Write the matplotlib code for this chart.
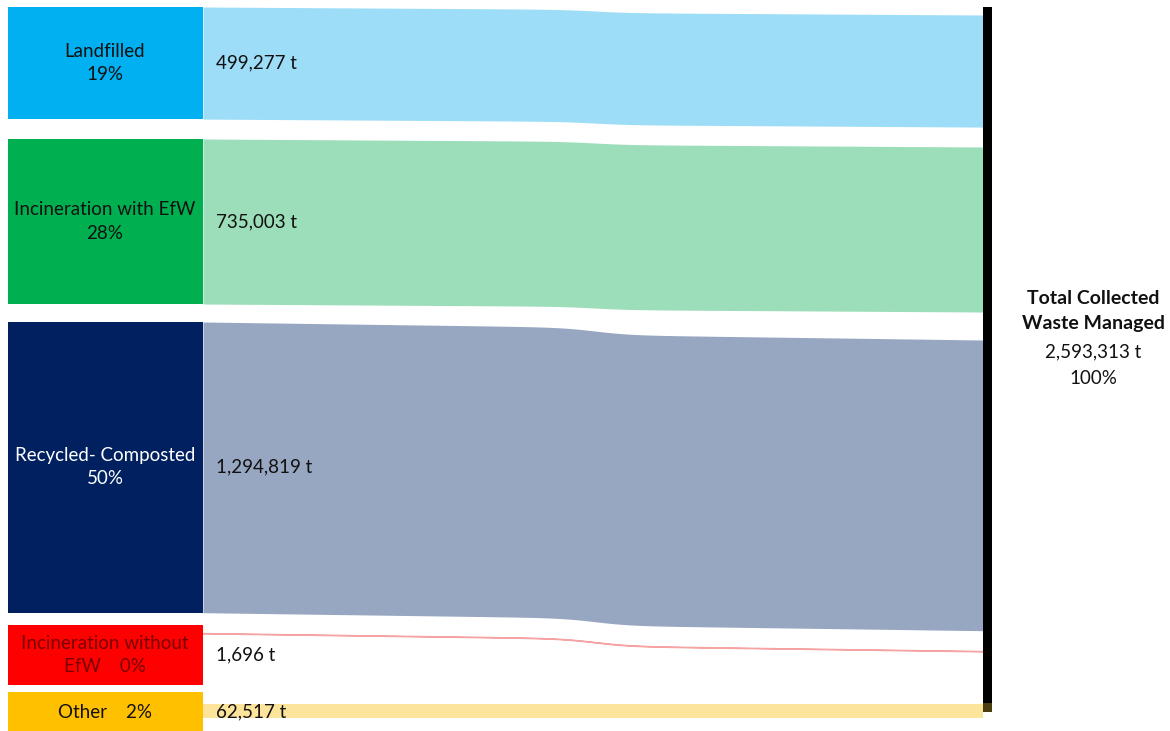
import numpy as np
import matplotlib.pyplot as plt
from matplotlib.patches import Rectangle

# data
categories = ["Landfilled", "Incineration with EfW", "Recycled- Composted",
              "Incineration without EfW", "Other"]
box_labels = ["Landfilled\n19%", "Incineration with EfW\n28%", "Recycled- Composted\n50%",
              "Incineration without\nEfW    0%", "Other    2%"]
tonnes = [499277, 735003, 1294819, 1696, 62517]
total_tonnes = 2593313

# styling / layout
box_colors = ["#00B0F0", "#00B050", "#002060", "#FF0000", "#FFC000"]
flow_colors = ["#9DDDF7", "#9CDDBA", "#97A7C1", "#F5A3A3", "#FDE49B"]
text_colors = ["#111111", "#111111", "#FFFFFF", "#7A0000", "#111111"]
box_tops = [7, 139, 322, 625, 692]
box_min = 60
flow_offset = [0, 0, 0, 8, 12]     # flow start below box top
right_shift = [8, 8, 18, 18, 0]    # vertical drift of each flow to the right bar
px_per_t = 2.245e-4

W, H = 1170, 731
fig = plt.figure(figsize=(11.7, 7.31), dpi=100)
ax = fig.add_axes([0, 0, 1, 1])
ax.set_xlim(0, W)
ax.set_ylim(H, 0)
ax.axis("off")
plt.rcParams["font.family"] = ["Lato", "DejaVu Sans"]

x0, x1 = 203, 983
xs = np.linspace(x0, x1, 400)
t = (xs - x0) / (x1 - x0)
# mostly gradual drift with a softer step near the middle
shape = 0.6 * t + 0.4 / (1 + np.exp(-(xs - 595) / 18))
shape = (shape - shape[0]) / (shape[-1] - shape[0])

for i, val in enumerate(tonnes):
    h = val * px_per_t
    top = box_tops[i] + flow_offset[i] + right_shift[i] * shape
    bottom = top + h
    ax.fill_between(xs, top, bottom, color=flow_colors[i],
                    linewidth=1.0 if h < 2 else 0, edgecolor=flow_colors[i])

    box_h = max(h, box_min) if i < 4 else 45
    ax.add_patch(Rectangle((8, box_tops[i]), x0 - 8, box_h, color=box_colors[i], lw=0))
    cy = box_tops[i] + box_h / 2 if i < 4 else 712
    ax.text(105, cy, box_labels[i], ha="center", va="center", fontsize=13.5,
            color=text_colors[i], linespacing=1.45)
    ax.text(216, cy, f"{val:,} t", ha="left", va="center", fontsize=13.5, color="#111111")

# right node
ax.add_patch(Rectangle((983, 7), 9, 705, color="black", lw=0))
ax.add_patch(Rectangle((983, 703), 9, 9, color="#4A3E10", lw=0))

ax.text(1093, 298, "Total Collected", ha="center", va="center",
        fontsize=14, fontweight="bold", color="#111111")
ax.text(1093, 324, "Waste Managed", ha="center", va="center",
        fontsize=14, fontweight="bold", color="#111111")
ax.text(1093, 352, f"{total_tonnes:,} t", ha="center", va="center",
        fontsize=13.5, color="#111111")
ax.text(1093, 378, "100%", ha="center", va="center",
        fontsize=13.5, color="#111111")

fig.savefig("out.png", dpi=100)
